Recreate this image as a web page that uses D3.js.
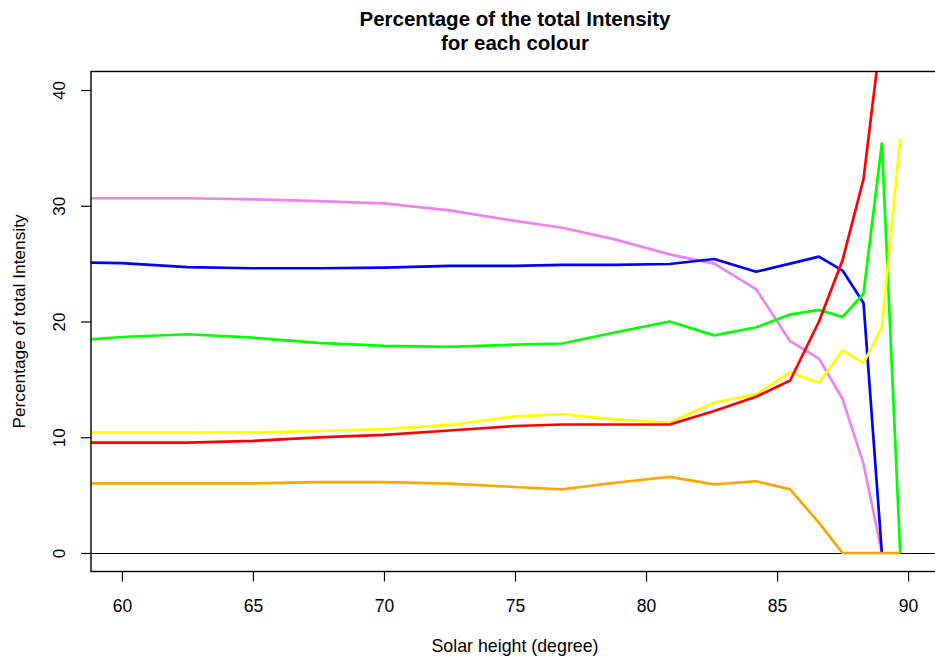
<!DOCTYPE html>
<html>
<head>
<meta charset="utf-8">
<script src="https://cdn.jsdelivr.net/npm/d3@7/dist/d3.min.js"></script>
<style>
  html, body { margin: 0; padding: 0; background: #fff; }
  svg { display: block; font-family: "Liberation Sans", Arial, sans-serif; }
</style>
</head>
<body>
<svg id="chart" width="935" height="662"></svg>
<script>
// ---- data ----
const solarHeight = [58.8, 60.0, 62.5, 65.0, 67.5, 70.0, 72.5, 75.0, 76.8, 78.8, 80.9, 82.6, 84.2, 85.5, 86.6, 87.5, 88.3, 89.0, 89.7];
const redValues    = [9.53, 9.53, 9.53, 9.68, 9.98, 10.2, 10.58, 10.97, 11.1, 11.1, 11.1, 12.27, 13.5, 14.9, 20.0, 25.3, 32.3, 45.4, 64.2];
const orangeValues = [6.02, 6.02, 6.02, 6.02, 6.13, 6.13, 6.0, 5.7, 5.5, 6.07, 6.57, 5.93, 6.2, 5.5, 2.6, 0, 0, 0, 0];
const yellowValues = [10.4, 10.4, 10.4, 10.42, 10.54, 10.7, 11.06, 11.8, 12.0, 11.55, 11.25, 13.0, 13.7, 15.6, 14.7, 17.5, 16.4, 19.5, 35.8];
const greenValues  = [18.46, 18.66, 18.9, 18.6, 18.15, 17.9, 17.8, 18.0, 18.1, 19.05, 20.0, 18.8, 19.5, 20.6, 21.0, 20.4, 22.4, 35.4, 0];
const blueValues   = [25.08, 25.05, 24.7, 24.6, 24.6, 24.66, 24.8, 24.8, 24.9, 24.9, 24.97, 25.4, 24.3, 25.0, 25.6, 24.4, 21.6, 0, null];
const violetValues = [30.65, 30.65, 30.65, 30.55, 30.4, 30.2, 29.6, 28.7, 28.1, 27.1, 25.8, 25.0, 22.8, 18.3, 16.8, 13.3, 7.7, 0, null];
const xTicks = [60, 65, 70, 75, 80, 85, 90];
const yTicks = [0, 10, 20, 30, 40];
const seriesNames = ["violet", "blue", "green", "yellow", "orange", "red"];
const seriesColors = ["#EE82EE", "#0000FF", "#00FF00", "#FFFF00", "#FFA500", "#FF0000"];
const seriesValues = [violetValues, blueValues, greenValues, yellowValues, orangeValues, redValues];
const titleLines = ["Percentage of the total Intensity", "for each colour"];
const xLabel = "Solar height (degree)";
const yLabel = "Percentage of total Intensity";

// ---- layout ----
const pLeft = 91, pRight = 939, pTop = 71.5, pBottom = 571.5;
const svg = d3.select("#chart");

const x = d3.scaleLinear().domain([58.82, 91.18]).range([pLeft, pRight]);
const y = d3.scaleLinear().domain([-1.6, 41.6]).range([pBottom, pTop]);

svg.append("defs").append("clipPath").attr("id", "plotclip")
  .append("rect").attr("x", pLeft).attr("y", pTop).attr("width", pRight - pLeft).attr("height", pBottom - pTop);

// zero line
svg.append("line")
  .attr("x1", pLeft).attr("x2", pRight)
  .attr("y1", Math.round(y(0)) + 0.5).attr("y2", Math.round(y(0)) + 0.5)
  .attr("stroke", "#000").attr("stroke-width", 1.2);

// series
const g = svg.append("g").attr("clip-path", "url(#plotclip)");
seriesValues.forEach((vals, i) => {
  const pts = solarHeight.map((h, j) => [h, vals[j]]);
  const line = d3.line()
    .defined(d => d[1] !== null && d[1] !== undefined)
    .x(d => x(d[0])).y(d => y(d[1]));
  g.append("path").datum(pts)
    .attr("d", line)
    .attr("fill", "none")
    .attr("stroke", seriesColors[i])
    .attr("stroke-width", 2.7)
    .attr("stroke-linejoin", "round")
    .attr("stroke-linecap", "butt");
});

// box
svg.append("rect")
  .attr("x", pLeft).attr("y", pTop).attr("width", pRight - pLeft).attr("height", pBottom - pTop)
  .attr("fill", "none").attr("stroke", "#000").attr("stroke-width", 1.4);

// x axis
const xAxis = d3.axisBottom(x).tickValues(xTicks).tickSize(10).tickPadding(18).tickFormat(d3.format("d"));
const xg = svg.append("g").attr("transform", `translate(0,${pBottom})`).call(xAxis);
xg.select(".domain").remove();
xg.selectAll(".tick line").attr("stroke", "#000").attr("stroke-width", 1.2);
xg.selectAll(".tick text").attr("font-size", 17.5).attr("fill", "#000")
  .attr("font-family", "'Liberation Sans', Arial, sans-serif");

// y axis
const yAxis = d3.axisLeft(y).tickValues(yTicks).tickSize(10).tickPadding(0).tickFormat(d3.format("d"));
const yg = svg.append("g").attr("transform", `translate(${pLeft},0)`).call(yAxis);
yg.select(".domain").remove();
yg.selectAll(".tick line").attr("stroke", "#000").attr("stroke-width", 1.2);
yg.selectAll(".tick text")
  .attr("font-size", 17).attr("fill", "#000")
  .attr("font-family", "'Liberation Sans', Arial, sans-serif")
  .attr("x", null).attr("dy", null)
  .attr("text-anchor", "middle")
  .attr("transform", "translate(-32,0) rotate(-90)")
  .attr("dy", "0.35em");

// title
const cx = (pLeft + pRight) / 2;
svg.append("text").attr("x", cx).attr("y", 26).attr("text-anchor", "middle")
  .attr("font-size", 20.5).attr("font-weight", "bold").attr("fill", "#000").text(titleLines[0]);
svg.append("text").attr("x", cx).attr("y", 49.5).attr("text-anchor", "middle")
  .attr("font-size", 20.5).attr("font-weight", "bold").attr("fill", "#000").text(titleLines[1]);

// axis labels
svg.append("text").attr("x", cx).attr("y", 652).attr("text-anchor", "middle")
  .attr("font-size", 17.8).attr("fill", "#000").text(xLabel);
svg.append("text")
  .attr("transform", `translate(25,${(pTop + pBottom) / 2}) rotate(-90)`)
  .attr("text-anchor", "middle")
  .attr("font-size", 17.3).attr("fill", "#000").text(yLabel);
</script>
</body>
</html>
